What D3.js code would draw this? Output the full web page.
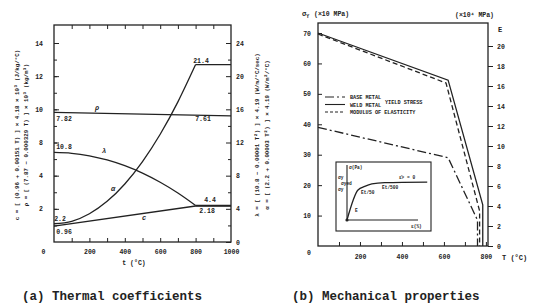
<!DOCTYPE html>
<html>
<head>
<meta charset="utf-8">
<script src="https://cdn.jsdelivr.net/npm/d3@7"></script>
<style>
body { margin: 0; background: #fff; }
svg text { font-family: "Liberation Mono", "DejaVu Sans Mono", monospace; fill: #222; }
.tick text { font-size: 6.5px; font-weight: bold; }
.tick line { stroke: #222; stroke-width: 1; }
</style>
</head>
<body>
<div class="container"></div>
<script>
// ---- panel (a) thermal coefficients
var tempA = [0, 100, 200, 300, 400, 500, 600, 700, 800, 1000];
var alphaVals = [2.2, 2.5, 3.4, 4.9, 7.0, 9.7, 13.0, 16.9, 21.4, 21.4];
var lambdaVals = [10.8, 10.7, 10.4, 9.9, 9.2, 8.3, 7.2, 5.9, 4.4, 4.4];
var cTemp = [0, 800, 1000];
var cVals = [0.96, 2.17, 2.17];
var rhoTemp = [0, 1000];
var rhoVals = [7.82, 7.61];
var leftTicksA = [2, 4, 6, 8, 10, 12];
var leftTickTextA = ["2", "4", "8", "10", "12", "14"];
var rightTicksA = [0, 4, 8, 12, 16, 20, 24];
var xTicksA = [0, 200, 400, 600, 800, 1000];

// ---- panel (b) mechanical properties
var weldTemp = [0, 620, 785, 785];
var weldVals = [70, 54.5, 13.5, 0];
var baseTemp = [0, 620, 760, 760];
var baseVals = [39, 29, 8.5, 0];
var modTemp = [0, 610, 770, 770];
var modVals = [21.2, 16.3, 3.5, 0];
var sigTicks = [10, 20, 30, 40, 50, 60, 70];
var eTicks = [0, 2, 4, 6, 8, 10, 12, 14, 16, 18, 20];
var xTicksB = [200, 400, 600, 800];
var legendNames = ["BASE METAL", "WELD METAL", "MODULUS OF ELASTICITY"];
// inset stress-strain sketch
var insetStrain = [0, 1.55, 2.5, 3.5, 5.3, 11.3];
var insetStress = [0, 5.45, 6.1, 6.55, 6.8, 6.9];

var svg = d3.select(".container").append("svg")
    .attr("width", 534)
    .attr("height", 308);

var ink = "#222";

function drawLine(g, xs, ys, xScale, yScale, dash, curve) {
    var pts = xs.map(function (d, i) { return [d, ys[i]]; });
    g.append("path")
        .datum(pts)
        .attr("fill", "none")
        .attr("stroke", ink)
        .attr("stroke-width", 1.3)
        .attr("stroke-dasharray", dash || null)
        .attr("d", d3.line()
            .x(function (d) { return xScale(d[0]); })
            .y(function (d) { return yScale(d[1]); })
            .curve(curve || d3.curveLinear));
}

// smooth part up to 800 °C, then the flat plateau
function drawCurve(g, xs, ys, xScale, yScale) {
    var n = xs.length - 1;
    drawLine(g, xs.slice(0, n), ys.slice(0, n), xScale, yScale, null, d3.curveNatural);
    drawLine(g, xs.slice(n - 1), ys.slice(n - 1), xScale, yScale);
}

function clean(g) {
    g.select(".domain").remove();
    return g;
}

// ================= panel (a)
var xA = d3.scaleLinear().domain([0, 1000]).range([54, 231]);
var yL = d3.scaleLinear().domain([0, 12]).range([242, 43]);
var yR = d3.scaleLinear().domain([0, 24]).range([242, 43]);

var ga = svg.append("g");

ga.append("rect")
    .attr("x", xA(0)).attr("y", 25)
    .attr("width", xA(1000) - xA(0)).attr("height", yL(0) - 25)
    .attr("fill", "none").attr("stroke", ink).attr("stroke-width", 1.3);

clean(ga.append("g").attr("transform", "translate(" + xA(0) + ",0)")
    .call(d3.axisLeft(yL).tickValues(d3.range(1, 12)).tickSize(-3).tickFormat("")));
clean(ga.append("g").attr("transform", "translate(" + xA(0) + ",0)")
    .call(d3.axisLeft(yL).tickValues(leftTicksA).tickSize(-5).tickPadding(11)
        .tickFormat(function (d, i) { return leftTickTextA[i]; })));

clean(ga.append("g").attr("transform", "translate(" + xA(1000) + ",0)")
    .call(d3.axisRight(yR).tickValues(d3.range(2, 24, 4)).tickSize(-3).tickFormat("")));
clean(ga.append("g").attr("transform", "translate(" + xA(1000) + ",0)")
    .call(d3.axisRight(yR).tickValues(rightTicksA).tickSize(-5).tickPadding(5)));

clean(ga.append("g").attr("transform", "translate(0," + yL(0) + ")")
    .call(d3.axisBottom(xA).tickValues(d3.range(100, 1000, 100)).tickSize(-4).tickFormat("")));
var bottomA = clean(ga.append("g").attr("transform", "translate(0," + yL(0) + ")")
    .call(d3.axisBottom(xA).tickValues(xTicksA).tickSize(0).tickPadding(7).tickFormat(d3.format("d"))));
bottomA.selectAll(".tick text").filter(function (d) { return d === 0; }).attr("dx", -11);
clean(ga.append("g").attr("transform", "translate(0,25)")
    .call(d3.axisTop(xA).tickValues(d3.range(100, 1000, 100)).tickSize(-4).tickFormat("")));

drawLine(ga, rhoTemp, rhoVals, xA, yL);
drawLine(ga, cTemp, cVals, xA, yL);
drawCurve(ga, tempA, alphaVals, xA, yR);
drawCurve(ga, tempA, lambdaVals, xA, yR);

var labA = [
    ["21.4", 201, 63], ["7.82", 64, 121], ["7.61", 203, 121], ["10.8", 64, 149],
    ["2.2", 60, 221], ["0.96", 64, 234], ["4.4", 210, 202], ["2.18", 207, 213]
];
labA.forEach(function (d) {
    ga.append("text").attr("x", d[1]).attr("y", d[2]).attr("text-anchor", "middle")
        .attr("font-size", 6.5).attr("font-weight", "bold").text(d[0]);
});
[["ρ", 97, 110], ["λ", 104, 153], ["α", 113, 191], ["c", 144, 220]].forEach(function (d) {
    ga.append("text").attr("x", d[1]).attr("y", d[2]).attr("text-anchor", "middle")
        .attr("font-size", 7).attr("font-weight", "bold").attr("font-style", "italic").text(d[0]);
});

ga.append("text").attr("x", 134).attr("y", 265).attr("text-anchor", "middle")
    .attr("font-size", 6.5).attr("font-weight", "bold").text("t (°C)");

var sideA = [
    ["c = [ (0.96 + 0.00151 T) ] × 4.18 × 10³  (J/kg/°C)", 19],
    ["ρ = [ (7.87 − 0.000329 T) ] × 10³  (kg/m³)", 28],
    ["λ = [ (10.8 − 0.00001 T²) ] × 4.19  (W/m/°C/sec)", 259],
    ["α = [ (2.2 + 0.00003 T²) ] × 4.19  (W/m²/°C)", 269]
];
sideA.forEach(function (d) {
    ga.append("text")
        .attr("transform", "translate(" + d[1] + ",135) rotate(-90)")
        .attr("text-anchor", "middle").attr("font-size", 5.8).attr("font-weight", "bold")
        .text(d[0]);
});

svg.append("text").attr("x", 22).attr("y", 300).attr("font-size", 12.5)
    .attr("font-weight", "bold").attr("fill", "#333").text("(a) Thermal coefficients");

// ================= panel (b)
var xB = d3.scaleLinear().domain([0, 810]).range([318, 488]);
var ySig = d3.scaleLinear().domain([0, 70]).range([246, 33]);
var yE = d3.scaleLinear().domain([0, 20]).range([246, 46]);

var gb = svg.append("g");

gb.append("rect")
    .attr("x", xB(0)).attr("y", 23)
    .attr("width", xB(810) - xB(0)).attr("height", ySig(0) - 23)
    .attr("fill", "none").attr("stroke", ink).attr("stroke-width", 1.3);

clean(gb.append("g").attr("transform", "translate(" + xB(0) + ",0)")
    .call(d3.axisLeft(ySig).tickValues(sigTicks).tickSize(-4).tickPadding(7)));
clean(gb.append("g").attr("transform", "translate(" + xB(810) + ",0)")
    .call(d3.axisRight(yE).tickValues(eTicks).tickSize(5).tickPadding(4)));
clean(gb.append("g").attr("transform", "translate(0," + ySig(0) + ")")
    .call(d3.axisBottom(xB).tickValues(d3.range(100, 810, 100)).tickSize(-4).tickFormat("")));
clean(gb.append("g").attr("transform", "translate(0," + ySig(0) + ")")
    .call(d3.axisBottom(xB).tickValues(xTicksB).tickSize(0).tickPadding(8)));
gb.append("text").attr("x", 309).attr("y", 255).attr("text-anchor", "middle")
    .attr("font-size", 6.5).attr("font-weight", "bold").text("0");
gb.append("text").attr("x", 502).attr("y", 260).attr("font-size", 7)
    .attr("font-weight", "bold").text("T (°C)");

gb.append("text").attr("x", 302).attr("y", 16).attr("font-size", 7).attr("font-weight", "bold")
    .text("σ").append("tspan").attr("font-size", 5).attr("dy", 2).text("Y");
gb.append("text").attr("x", 314).attr("y", 16).attr("font-size", 6.5).attr("font-weight", "bold")
    .text("(×10 MPa)");
gb.append("text").attr("x", 455).attr("y", 17).attr("font-size", 6.5).attr("font-weight", "bold")
    .text("(×10⁴ MPa)");
gb.append("text").attr("x", 498).attr("y", 32).attr("font-size", 7).attr("font-weight", "bold")
    .text("E");

drawLine(gb, weldTemp, weldVals, xB, ySig);
drawLine(gb, baseTemp, baseVals, xB, ySig, "9,3,2,3");
drawLine(gb, modTemp, modVals, xB, yE, "5,3");

// legend
var legDash = ["9,3,2,3", null, "3,2"];
legendNames.forEach(function (name, i) {
    var y = 97 + i * 7.5;
    gb.append("line").attr("x1", 325).attr("x2", 345).attr("y1", y).attr("y2", y)
        .attr("stroke", ink).attr("stroke-width", 1.1).attr("stroke-dasharray", legDash[i]);
    gb.append("text").attr("x", 350).attr("y", y + 2).attr("font-size", 5.2)
        .attr("font-weight", "bold").text(name);
});
gb.append("text").attr("x", 385).attr("y", 104).attr("font-size", 5.2)
    .attr("font-weight", "bold").text("YIELD STRESS");

// inset
var ins = gb.append("g");
ins.append("rect").attr("x", 336).attr("y", 162).attr("width", 95).attr("height", 69)
    .attr("fill", "#fff").attr("stroke", ink).attr("stroke-width", 1.1);
var xs = d3.scaleLinear().domain([0, 10]).range([347, 418]);
var ys = d3.scaleLinear().domain([0, 10]).range([220, 165]);
ins.append("line").attr("x1", xs(0)).attr("x2", xs(10)).attr("y1", ys(0)).attr("y2", ys(0))
    .attr("stroke", ink).attr("stroke-width", 1.1);
ins.append("line").attr("x1", xs(0)).attr("x2", xs(0)).attr("y1", ys(0)).attr("y2", ys(10))
    .attr("stroke", ink).attr("stroke-width", 1.1);
drawLine(ins, insetStrain, insetStress, xs, ys, null, d3.curveMonotoneX);
ins.append("circle").attr("cx", xs(0)).attr("cy", ys(0)).attr("r", 1.6).attr("fill", ink);
[["σ(Pa)", 349, 169], ["σy", 338, 179], ["σyed", 341, 185], ["σy", 338, 191],
 ["E", 355, 212], ["Et/50", 361, 194], ["Et/500", 382, 189], ["ε̄ᵖ = 0", 399, 179],
 ["ε(%)", 411, 228]].forEach(function (d) {
    ins.append("text").attr("x", d[1]).attr("y", d[2]).attr("font-size", 4.5)
        .attr("font-weight", "bold").text(d[0]);
});

svg.append("text").attr("x", 292).attr("y", 300).attr("font-size", 12.5)
    .attr("font-weight", "bold").attr("fill", "#333").text("(b) Mechanical properties");
</script>
</body>
</html>
